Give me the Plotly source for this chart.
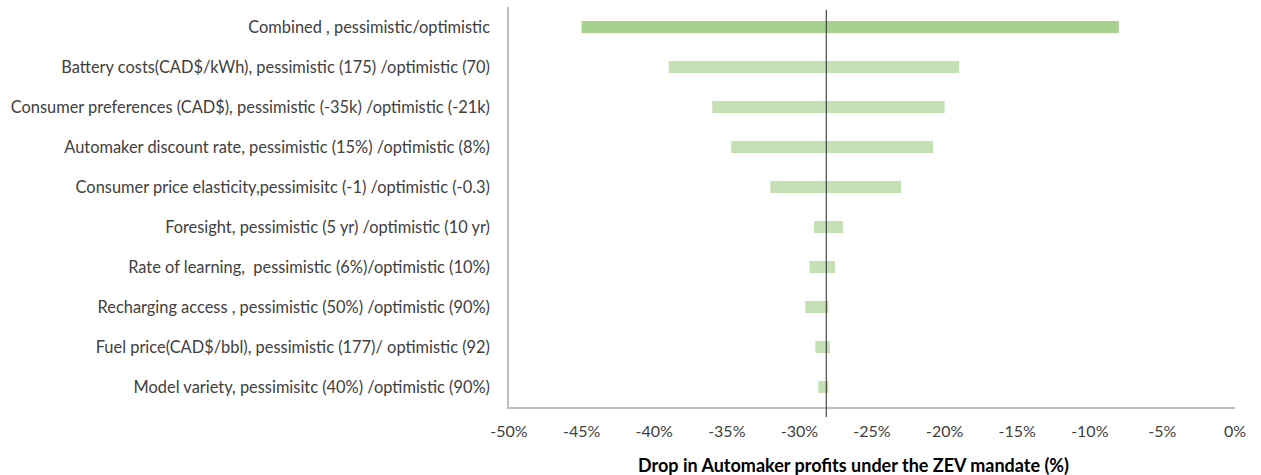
import plotly.graph_objects as go

# Sensitivity of the drop in automaker profits to each input (tornado chart)
categories = [
    "Combined , pessimistic/optimistic",
    "Battery costs(CAD$/kWh), pessimistic (175) /optimistic (70)",
    "Consumer preferences (CAD$), pessimistic (-35k) /optimistic (-21k)",
    "Automaker discount rate, pessimistic (15%) /optimistic (8%)",
    "Consumer price elasticity,pessimisitc (-1) /optimistic (-0.3)",
    "Foresight, pessimistic (5 yr) /optimistic (10 yr)",
    "Rate of learning,  pessimistic (6%)/optimistic (10%)",
    "Recharging access , pessimistic (50%) /optimistic (90%)",
    "Fuel price(CAD$/bbl), pessimistic (177)/ optimistic (92)",
    "Model variety, pessimisitc (40%) /optimistic (90%)",
]
pessimistic = [-45.0, -39.0, -36.0, -34.7, -32.0, -29.0, -29.3, -29.6, -28.9, -28.7]
optimistic = [-8.0, -19.0, -20.0, -20.8, -23.0, -27.0, -27.55, -28.0, -27.9, -28.0]
baseline = -28.15

tick_values = [-50, -45, -40, -35, -30, -25, -20, -15, -10, -5, 0]
tick_labels = ["-50%", "-45%", "-40%", "-35%", "-30%", "-25%", "-20%",
               "-15%", "-10%", "-5%", "0%"]

colors = ["#A9D18E"] + ["#C5E0B4"] * (len(categories) - 1)

fig = go.Figure(
    go.Bar(
        y=categories,
        base=pessimistic,
        x=[o - p for o, p in zip(optimistic, pessimistic)],
        orientation="h",
        width=0.3,
        marker=dict(color=colors, line=dict(width=0)),
        hoverinfo="skip",
    )
)

# Baseline profit drop
fig.add_shape(
    type="line", xref="x", yref="paper",
    x0=baseline, x1=baseline, y0=-0.025, y1=0.993,
    line=dict(color="#262626", width=1),
)

fig.add_annotation(
    text="<b>Drop in Automaker profits under the ZEV mandate (%)</b>",
    xref="paper", yref="paper", x=0.474, y=-0.145,
    xanchor="center", yanchor="middle", showarrow=False,
    font=dict(size=18, color="#000000"),
)

fig.update_xaxes(
    range=[-50, 0], tickvals=tick_values, ticktext=tick_labels,
    showgrid=False, zeroline=False, showline=True,
    linecolor="#BFBFBF", linewidth=1.5, ticks="",
    ticklabelstandoff=9,
    tickfont=dict(size=16, color="#404040"),
)
fig.update_yaxes(
    autorange="reversed", showgrid=False, zeroline=False,
    showline=True, linecolor="#BFBFBF", linewidth=1.5, ticks="",
    ticklabelstandoff=14,
    tickfont=dict(size=16.4, color="#404040"),
)

fig.update_layout(
    width=1261, height=475,
    margin=dict(l=509, r=26, t=7, b=68),
    paper_bgcolor="white", plot_bgcolor="white",
    font=dict(family="Lato, Calibri, sans-serif"),
    showlegend=False, bargap=0.7,
)

fig.write_html("out.html")
